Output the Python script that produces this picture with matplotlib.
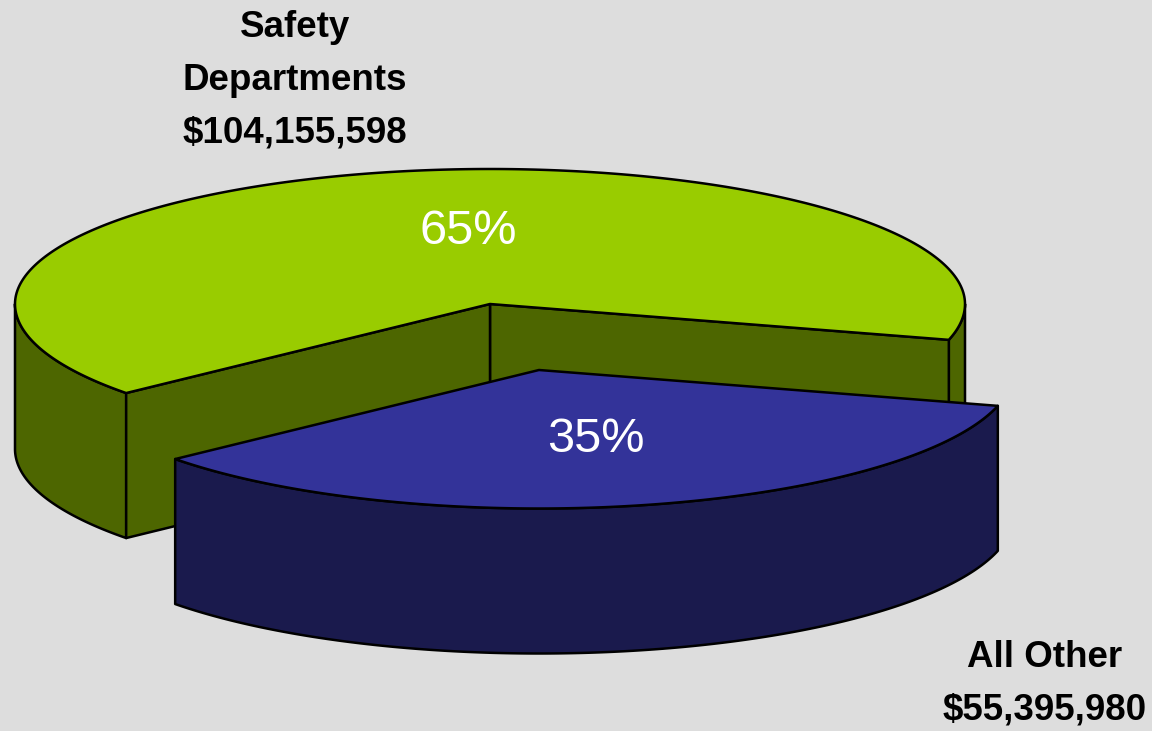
import numpy as np
import matplotlib
matplotlib.use('Agg')
import matplotlib.pyplot as plt

labels = ['Safety\nDepartments\n$104,155,598', 'All Other\n$55,395,980']
amounts = [104155598, 55395980]
pct_labels = ['65%', '35%']

plt.rcParams['font.family'] = ['Liberation Sans', 'DejaVu Sans']

BG = '#dddddd'
GREEN_TOP, GREEN_SIDE = '#99cc00', '#4d6600'
BLUE_TOP, BLUE_SIDE = '#333399', '#1a1a4d'

# pie geometry, in pixels of the figure
# the original outline is a little deeper in front than behind
RX, RY_BACK, RY_FRONT, DEPTH = 475, 135, 138.5, 145
GREEN_C = (490, 304)
BLUE_C = (539, 370)
LW = 1.8


def rim(c, t0, t1):
    t = np.radians(np.linspace(t0, t1, 300))
    ry = np.where(np.sin(t) > 0, RY_FRONT, RY_BACK)
    return c[0] + RX * np.cos(t), c[1] + ry * np.sin(t)


def side(ax, c, t0, t1, color, zorder):
    x, y = rim(c, t0, t1)
    xs = np.r_[x, x[::-1]]
    ys = np.r_[y, y[::-1] + DEPTH]
    ax.fill(xs, ys, fc=color, ec='black', lw=LW, joinstyle='round', zorder=zorder)


def cut_face(ax, c, t, color, zorder):
    x, y = rim(c, t, t)
    xs = [c[0], x[0], x[0], c[0]]
    ys = [c[1], y[0], y[0] + DEPTH, c[1] + DEPTH]
    ax.fill(xs, ys, fc=color, ec='black', lw=LW, joinstyle='round', zorder=zorder)


def top(ax, c, t0, t1, color, zorder):
    x, y = rim(c, t0, t1)
    ax.fill(np.r_[c[0], x], np.r_[c[1], y], fc=color, ec='black', lw=LW,
            joinstyle='round', zorder=zorder)


fig = plt.figure(figsize=(11.52, 7.31), dpi=100, facecolor=BG)
ax = fig.add_axes([0, 0, 1, 1])
ax.set_xlim(0, 1152)
ax.set_ylim(731, 0)
ax.axis('off')

# blue slice starts low on the right, sweeps clockwise on screen through the front
share = amounts[1] / sum(amounts)
start = 15
end = start + share * 360

# green slice, with the gap left by the pulled out piece
side(ax, GREEN_C, end, 180, GREEN_SIDE, 1)
side(ax, GREEN_C, 0, start, GREEN_SIDE, 1)
cut_face(ax, GREEN_C, start, GREEN_SIDE, 2)
cut_face(ax, GREEN_C, end, GREEN_SIDE, 3)
top(ax, GREEN_C, end, start + 360, GREEN_TOP, 4)

# blue slice
side(ax, BLUE_C, start, end, BLUE_SIDE, 5)
top(ax, BLUE_C, start, end, BLUE_TOP, 6)

ax.text(468, 232, pct_labels[0], color='white', fontsize=35, ha='center', va='center', zorder=7)
ax.text(596, 440, pct_labels[1], color='white', fontsize=35, ha='center', va='center', zorder=7)

ax.text(295, 80, labels[0], color='black', fontsize=26.5, fontweight='bold', ha='center',
        va='center', linespacing=1.65, zorder=7)
ax.text(1045, 684, labels[1], color='black', fontsize=26.5, fontweight='bold', ha='center',
        va='center', linespacing=1.65, zorder=7)

fig.savefig('out.png', dpi=100, facecolor=BG)
